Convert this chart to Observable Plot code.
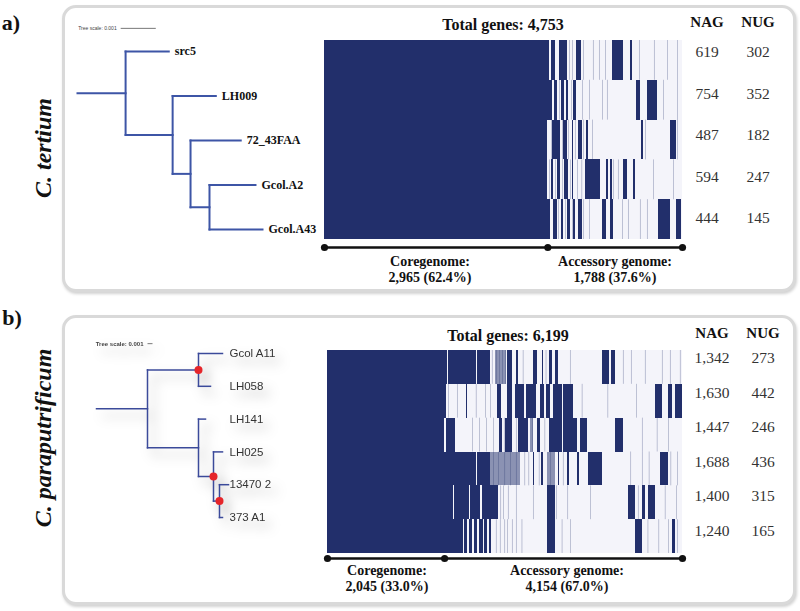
<!DOCTYPE html>
<html><head><meta charset="utf-8">
<script src="https://cdn.jsdelivr.net/npm/d3@7"></script>
<script src="https://cdn.jsdelivr.net/npm/@observablehq/plot@0.6"></script>
<style>
html,body{margin:0;padding:0;background:#fff;}
body{width:800px;height:611px;overflow:hidden;position:relative;font-family:"Liberation Serif","DejaVu Serif",serif;color:#111;}
.box{position:absolute;border:3px solid #d9d9d9;border-radius:14px;box-sizing:border-box;box-shadow:1px 2px 3px rgba(0,0,0,0.18);background:#fff;}
.t{position:absolute;white-space:nowrap;line-height:1;transform:translate(-50%,-50%);}
</style>
</head><body>
<script>
// ---------- DATA: panel a, C. tertium ----------
const ctGenomes = ["src5", "LH009", "72_43FAA", "Gcol.A2", "Gcol.A43"];
const ctNAG = [619, 754, 487, 594, 444];
const ctNUG = [302, 352, 182, 247, 145];
const ctTotal = 4753;
const ctCore = 2965;
const ctAccessory = 1788;
// presence blocks (gene index ranges), thin presence lines, and mixed bands per genome
const ctBlocks = [
  [[0,2990],[3014,3067],[3120,3226],[3346,3412],[3824,3970],[4063,4089]],
  [[0,3027],[3054,3094],[3147,3186],[3213,3240],[3306,3346],[4142,4195],[4288,4421]],
  [[0,2961],[3027,3133],[3173,3226],[3293,3306],[3372,3425],[3479,3505],[4209,4235],[4594,4673]],
  [[0,2961],[3014,3040],[3094,3133],[3186,3240],[3293,3306],[3465,3664],[3744,3771],[3797,3824],[3970,4023],[4103,4129]],
  [[0,3001],[3040,3094],[3147,3173],[3226,3266],[3306,3332],[3372,3425],[3691,3744],[3797,3837],[4434,4594],[4673,4740]]
];
const ctLines = [
  [3253,3293,3440,3571,3651,3731,4182,4381,4554,4687],
  [3120,3280,3430,3520,3691,3757,4501,4687],
  [3014,3160,3240,3332,3439,3560,4262,4687],
  [2990,3067,3160,3266,3359,3420,3837,3903,4368,4634],
  [3107,3200,3293,3439,3520,3957,4036,4195,4288]
];
const ctBands = [[], [], [], [], []];
// tree: parent links and branch lengths
const ctTree = [
  {id:"n0", parent:null, len:0.00137},
  {id:"src5", parent:"n0", len:0.00123},
  {id:"n1", parent:"n0", len:0.00134},
  {id:"LH009", parent:"n1", len:0.00123},
  {id:"n2", parent:"n1", len:0.00051},
  {id:"72_43FAA", parent:"n2", len:0.00143},
  {id:"n3", parent:"n2", len:0.00054},
  {id:"Gcol.A2", parent:"n3", len:0.00131},
  {id:"Gcol.A43", parent:"n3", len:0.00151}
];
const ctSupported = [];

// ---------- DATA: panel b, C. paraputrificum ----------
const cpGenomes = ["Gcol A11", "LH058", "LH141", "LH025", "13470 2", "373 A1"];
const cpNAG = [1342, 1630, 1447, 1688, 1400, 1240];
const cpNUG = [273, 442, 246, 436, 315, 165];
const cpTotal = 6199;
const cpCore = 2045;
const cpAccessory = 4154;
const cpBlocks = [
  [[0,2100],[2112,2300],[2312,2600],[2612,2846],[3143,3230],[3300,3335],[3597,3667],[3754,3772],[3876,3929],[3981,4033],[4802,4924],[4959,5028]],
  [[0,2078],[2427,2445],[2968,3040],[3143,3230],[3283,3440],[3470,3650],[3719,3790],[3820,3894],[3946,4100],[4115,4295],[5727,5849],[5954,6024],[6076,6199]],
  [[0,2043],[2078,2235],[3004,3056],[3108,3230],[3335,3510],[3667,3720],[3876,4100],[4120,4365],[4417,4540],[5028,5168]],
  [[0,2280],[2295,2600],[2612,2846],[3597,3620],[3745,3765],[4025,4045],[4190,4225],[4365,4400],[4557,4802],[5814,5954]],
  [[0,2200],[2215,2480],[2495,2680],[2700,2980],[3841,3981],[5255,5378],[5500,5552],[5605,5727]],
  [[0,2380],[2400,2440],[2480,2530],[2560,2620],[2660,2720],[2750,2800],[2830,2860],[3841,3981],[5378,5500],[6024,6076]]
];
const cpLines = [
  [2880,2960,3010,3060,3110,3420,3820,4243,5168,5308,5552,5849,5989,6163],
  [2113,2270,2600,2759,2850,4450,4900,5400],
  [2540,2660,2780,2900,3090,3300,3580,3800,5500,5760,5960],
  [2900,2990,3100,3200,3300,3450,3520,3700,3900,4120,5300,5500,5620,6000,6120],
  [3030,3080,3160,3300,3597,4000,4200,4600,5430,5900,6100],
  [2950,3020,3100,3150,3230,3300,3400,4100,4250,5600,5790,5960,6120]
];
const cpBands = [
  [[2933,3125]],
  [],
  [[3545,3600]],
  [[2846,3370],[3841,3981]],
  [],
  []
];
const cpTree = [
  {id:"root", parent:null, len:0.0102},
  {id:"A", parent:"root", len:0.0102},
  {id:"Gcol A11", parent:"A", len:0.0048},
  {id:"LH058", parent:"A", len:0.0024},
  {id:"B", parent:"root", len:0.0102},
  {id:"LH141", parent:"B", len:0.0014},
  {id:"C", parent:"B", len:0.0030},
  {id:"LH025", parent:"C", len:0.0018},
  {id:"D", parent:"C", len:0.0012},
  {id:"13470 2", parent:"D", len:0.0018},
  {id:"373 A1", parent:"D", len:0.0006}
];
const cpSupported = ["A", "C", "D"];

// ---------- helpers ----------
const NAVY = "#222f6b";
const ABSENT = "#f4f4fa";
const fmt = d3.format(",");
const SERIF = "Liberation Serif, DejaVu Serif, serif";
const SANS = "Liberation Sans, Arial, sans-serif";

function text(str, x, y, css) {
  const d = document.createElement("div");
  d.className = "t";
  d.textContent = str;
  d.style.left = x + "px";
  d.style.top = y + "px";
  Object.assign(d.style, css || {});
  document.body.appendChild(d);
  return d;
}
function box(l, t, w, h) {
  const d = document.createElement("div");
  d.className = "box";
  Object.assign(d.style, {left:l+"px", top:t+"px", width:w+"px", height:h+"px"});
  document.body.appendChild(d);
}
function place(el, l, t, extra) {
  el.style.position = "absolute";
  el.style.left = l + "px";
  el.style.top = t + "px";
  Object.assign(el.style, extra || {});
  document.body.appendChild(el);
}

function layoutTree(nodes) {
  const byId = new Map(nodes.map(n => [n.id, {...n, children: []}]));
  let root;
  for (const n of byId.values()) {
    if (n.parent == null) root = n; else byId.get(n.parent).children.push(n);
  }
  let tip = 0;
  (function walk(n, d) {
    n.x0 = d; n.x = d + n.len;
    n.children.forEach(c => walk(c, n.x));
    n.y = n.children.length ? (n.children[0].y + n.children[n.children.length - 1].y) / 2 : tip++;
  })(root, 0);
  return [...byId.values()];
}

function drawTree(o) {
  const nodes = layoutTree(o.tree);
  const tips = nodes.filter(n => !n.children.length);
  const internal = nodes.filter(n => n.children.length);
  const maxX = d3.max(nodes, n => n.x);
  const plot = Plot.plot({
    width: o.width, height: o.height,
    margin: 0,
    x: {domain: [0, maxX], range: o.xRange, axis: null},
    y: {domain: [0, tips.length - 1], range: o.yRange, axis: null},
    style: {background: "transparent", overflow: "visible"},
    marks: [
      Plot.link(nodes, {x1: "x0", x2: "x", y1: "y", y2: "y", stroke: o.color, strokeWidth: o.sw, strokeLinecap: "square"}),
      Plot.link(internal, {x1: "x", x2: "x", y1: n => n.children[0].y, y2: n => n.children[n.children.length - 1].y, stroke: o.color, strokeWidth: o.sw, strokeLinecap: "square"}),
      Plot.dot(internal.filter(n => o.supported.includes(n.id)), {x: "x", y: "y", r: 4, fill: "#e5252a"}),
      Plot.text(tips, {x: o.alignLabels ? maxX : "x", y: "y", text: "id", dx: o.labelDx, textAnchor: "start", fontFamily: o.font, fontSize: o.fontSize, fontWeight: o.fontWeight, fill: o.labelColor}),
      Plot.link([o.scaleStart], {x1: d => d, x2: d => d + 0.001, y1: o.scaleY, y2: o.scaleY, stroke: "#555", strokeWidth: 0.8}),
      Plot.text(["Tree scale: 0.001"], {x: o.scaleStart, y: o.scaleY, dx: -4, textAnchor: "end", fontFamily: SANS, fontSize: o.scaleFont, fontWeight: o.scaleWeight, fill: "#444"})
    ]
  });
  place(plot, o.left, o.top, o.css);
}

function drawHeatmap(o) {
  const n = o.genomes.length;
  const rows = o.genomes.map((g, i) => ({i}));
  const solid = o.blocks.flatMap((row, i) => row.map(([s, e]) => ({i, s, e})));
  const thin = o.lines.flatMap((row, i) => row.map(g => ({i, s: g, e: g + o.thin})));
  const bands = o.bands.flatMap((row, i) => row.map(([s, e]) => ({i, s, e})));
  const by = n + o.gapPx * n / o.h;
  const y2 = d => d.i + 1;
  const plot = Plot.plot({
    width: o.w + 12, height: o.h + o.gapPx + 8,
    margin: 0,
    x: {domain: [0, o.total], range: [6, 6 + o.w], axis: null},
    y: {domain: [0, n], range: [0, o.h], axis: null},
    style: {background: "transparent", overflow: "visible"},
    marks: [
      Plot.rect(rows, {x1: 0, x2: o.total, y1: "i", y2, fill: ABSENT, shapeRendering: "crispEdges"}),
      Plot.rect(bands, {x1: "s", x2: "e", y1: "i", y2, fill: NAVY, fillOpacity: 0.5, shapeRendering: "crispEdges"}),
      Plot.rect(thin, {x1: "s", x2: "e", y1: "i", y2, fill: NAVY, fillOpacity: 0.5, shapeRendering: "geometricPrecision"}),
      Plot.rect(solid, {x1: "s", x2: "e", y1: "i", y2, fill: NAVY, shapeRendering: "crispEdges"}),
      Plot.ruleY([by], {x1: 0, x2: o.total, stroke: "#111", strokeWidth: 2.5}),
      Plot.dot([0, o.core, o.total], {x: d => d, y: by, r: 3.6, fill: "#111"})
    ]
  });
  place(plot, o.left - 6, o.top);
}

function drawPanel(p) {
  box(p.box[0], p.box[1], p.box[2], p.box[3]);
  text(p.letter, p.letterXY[0], p.letterXY[1], {fontSize: "22px", fontWeight: "bold"});
  text(p.species, p.speciesXY[0], p.speciesXY[1], {fontSize: "24px", fontWeight: "bold", fontStyle: "italic", transform: "translate(-50%,-50%) rotate(-90deg)"});
  drawTree(p.treeOpts);
  drawHeatmap(p.heat);
  text("Total genes: " + fmt(p.heat.total), p.titleXY[0], p.titleXY[1], {fontSize: "16px", fontWeight: "bold"});
  text("NAG", p.nagX, p.headY, {fontSize: "15px", fontWeight: "bold"});
  text("NUG", p.nugX, p.headY, {fontSize: "15px", fontWeight: "bold"});
  p.nag.forEach((v, i) => text(fmt(v), p.nagX, p.valY0 + i * p.valStep, {fontSize: "15.5px", color: "#333"}));
  p.nug.forEach((v, i) => text(fmt(v), p.nugX, p.valY0 + i * p.valStep, {fontSize: "15.5px", color: "#333"}));
  const pct = v => (v / p.heat.total * 100).toFixed(1) + "%";
  const lab = {fontSize: "14px", fontWeight: "bold"};
  text("Coregenome:", p.coreX, p.labY, lab);
  text(fmt(p.heat.core) + " (" + pct(p.heat.core) + ")", p.coreX, p.labY + 16, lab);
  text("Accessory genome:", p.accX, p.labY, lab);
  text(fmt(p.accessory) + " (" + pct(p.accessory) + ")", p.accX, p.labY + 16, lab);
}

drawPanel({
  box: [62, 5, 734, 287], letter: "a)", letterXY: [11, 23], species: "C. tertium", speciesXY: [43, 148],
  treeOpts: {tree: ctTree, supported: ctSupported, left: 0, top: 0, width: 320, height: 300,
    xRange: [77, 262], yRange: [51, 229], color: "#3d55a6", sw: 2, labelDx: 6, alignLabels: false,
    font: SERIF, fontSize: 12, fontWeight: "bold", labelColor: "#111",
    scaleStart: 0.00123, scaleY: -0.52, scaleFont: 5, scaleWeight: "normal"},
  heat: {genomes: ctGenomes, blocks: ctBlocks, lines: ctLines, bands: ctBands, total: ctTotal, core: ctCore,
    left: 324, top: 40, w: 358, h: 199, gapPx: 8, thin: 7},
  accessory: ctAccessory,
  titleXY: [503, 25], nagX: 707, nugX: 758, headY: 22, valY0: 52, valStep: 41.6, nag: ctNAG, nug: ctNUG,
  coreX: 430, accX: 615, labY: 262
});

drawPanel({
  box: [62, 315, 734, 290], letter: "b)", letterXY: [12, 318], species: "C. paraputrificum", speciesXY: [43, 438],
  treeOpts: {tree: cpTree, supported: cpSupported, left: 0, top: 310, width: 320, height: 290,
    xRange: [96, 228], yRange: [43, 207], color: "#3b4a9a", sw: 1.5, labelDx: 1, alignLabels: true,
    font: SANS, fontSize: 11.5, fontWeight: "normal", labelColor: "#333",
    scaleStart: 0.0102, scaleY: -0.3, scaleFont: 6, scaleWeight: "bold",
    css: {filter: "drop-shadow(6px 7px 6px rgba(0,0,0,0.30))"}},
  heat: {genomes: cpGenomes, blocks: cpBlocks, lines: cpLines, bands: cpBands, total: cpTotal, core: cpCore,
    left: 327, top: 350, w: 355, h: 203, gapPx: 5, thin: 9},
  accessory: cpAccessory,
  titleXY: [508, 336], nagX: 712, nugX: 763, headY: 333, valY0: 358, valStep: 34.6, nag: cpNAG, nug: cpNUG,
  coreX: 387, accX: 567, labY: 571
});
</script>
</body></html>
